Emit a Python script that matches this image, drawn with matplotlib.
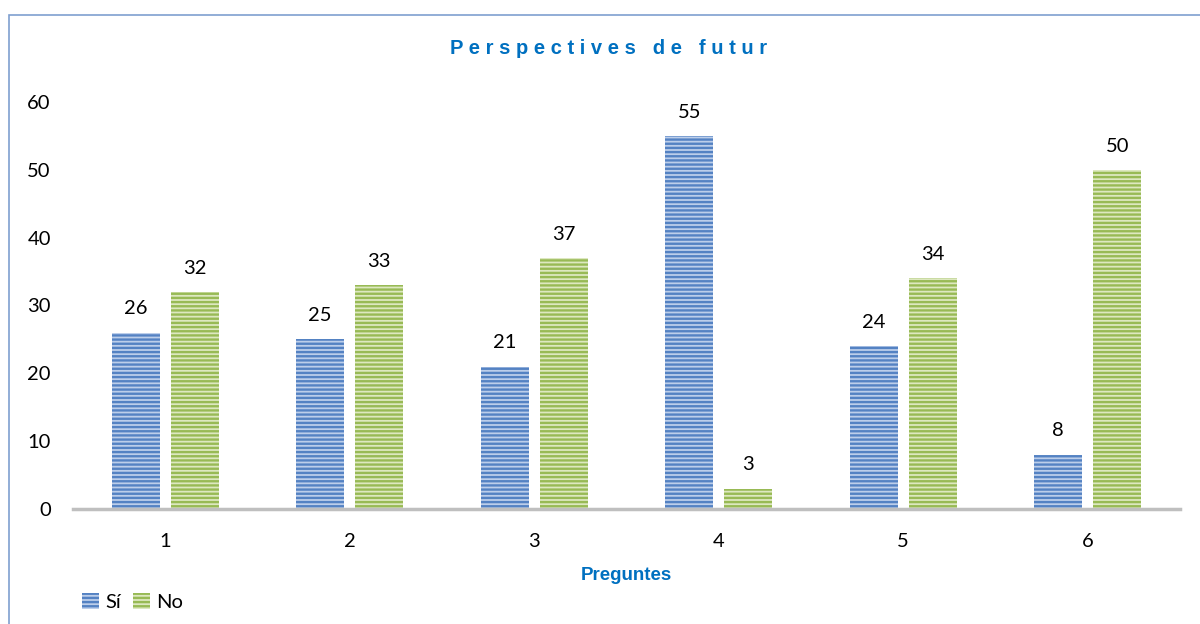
import numpy as np
import matplotlib.pyplot as plt
from matplotlib.patches import Rectangle, Patch

## data
preguntes = ['1', '2', '3', '4', '5', '6']
si = [26, 25, 21, 55, 24, 8]
no = [32, 33, 37, 3, 34, 50]

blue_face, blue_stripe = '#BCCEEA', '#5482C3'
green_face, green_stripe = '#DDE8C0', '#98BA55'
title_blue = '#0070C0'

plt.rcParams['hatch.linewidth'] = 1.7

fig = plt.figure(figsize=(12, 6.24), dpi=100)
ax = fig.add_axes([73/1200, 1-509/624, (1180-73)/1200, (509-102)/624])

x = np.arange(1, len(preguntes) + 1)
w = 0.26
off = 0.16
b1 = ax.bar(x - off, si, w, color=blue_face, edgecolor=blue_stripe, hatch='----', linewidth=0)
b2 = ax.bar(x + off, no, w, color=green_face, edgecolor=green_stripe, hatch='----', linewidth=0)

for bars, vals in [(b1, si), (b2, no)]:
    for r, v in zip(bars, vals):
        ax.annotate(str(v), (r.get_x() + r.get_width()/2, v), xytext=(0, 11),
                    textcoords='offset points', ha='center', va='bottom',
                    fontsize=14.5, family='Lato')

ax.set_xlim(0.5, 6.5)
ax.set_ylim(0, 60)
ax.set_yticks(range(0, 61, 10))
ax.set_xticks(x)
ax.set_xticklabels(preguntes)
for s in ['top', 'right', 'left']:
    ax.spines[s].set_visible(False)
ax.spines['bottom'].set_color('#BFBFBF')
ax.spines['bottom'].set_linewidth(2.5)
ax.tick_params(axis='both', length=0, labelsize=14.5)
ax.tick_params(axis='x', pad=17)
ax.tick_params(axis='y', pad=16)
for t in ax.get_xticklabels() + ax.get_yticklabels():
    t.set_family('Lato')

fig.text(0.5075, 1-48/624, 'P e r s p e c t i v e s   d e   f u t u r', ha='center', va='center',
         fontsize=14.5, fontweight='bold', color=title_blue, family='Liberation Sans')
fig.text((73+1180)/2/1200, 1-575/624, 'Preguntes', ha='center', va='center',
         fontsize=13.5, fontweight='bold', color=title_blue, family='Liberation Sans')

handles = [Patch(facecolor=blue_face, edgecolor=blue_stripe, hatch='----', linewidth=0, label='Sí'),
           Patch(facecolor=green_face, edgecolor=green_stripe, hatch='----', linewidth=0, label='No')]
fig.legend(handles=handles, loc='center left', bbox_to_anchor=(64/1200, 1-602/624), ncol=2,
           frameon=False, handlelength=0.85, handleheight=0.85, handletextpad=0.3,
           columnspacing=0.6, prop={'family': 'Lato', 'size': 14.5})

# chart frame (only left and top edges fall inside the image)
fig.patches.append(Rectangle((9/1200, -0.1), 1.2, 1.1 - 15/624, transform=fig.transFigure,
                             fill=False, edgecolor='#7FA0D0', linewidth=1.2))

fig.savefig('out.png', dpi=100)
